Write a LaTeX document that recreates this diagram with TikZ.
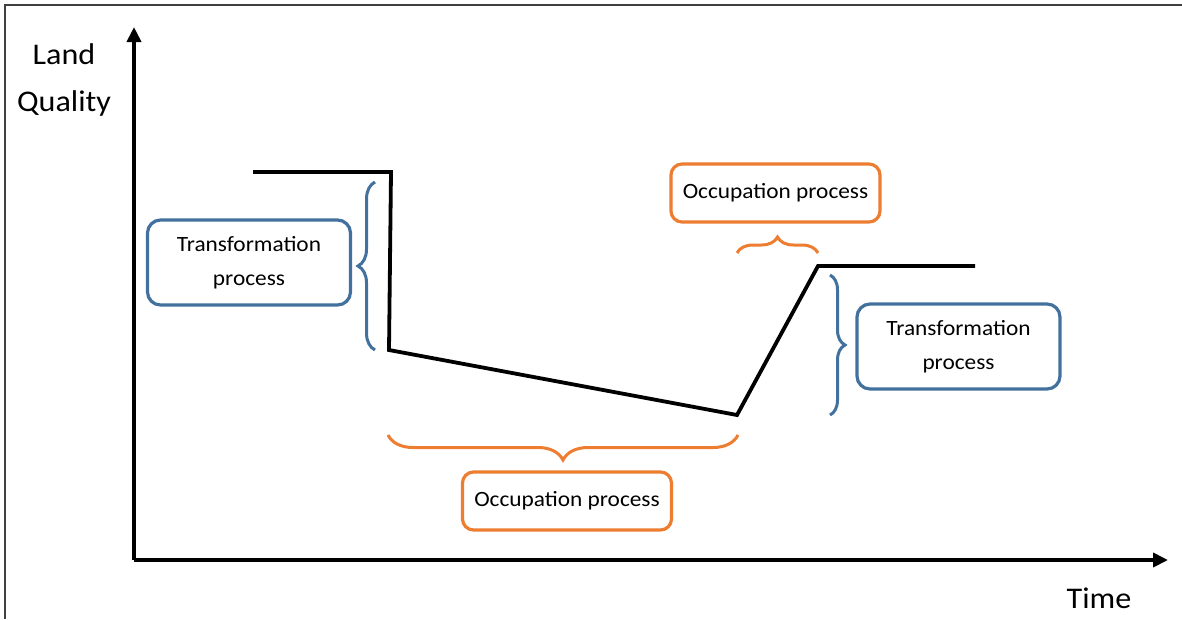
\documentclass[tikz,border=0pt]{standalone}
\usepackage{fontspec}
\setmainfont{Carlito}[FakeStretch=1.07]
\usetikzlibrary{arrows.meta,decorations.pathreplacing}
\definecolor{ablue}{RGB}{65,113,156}
\definecolor{aorange}{RGB}{237,125,49}
\begin{document}
\begin{tikzpicture}[x=1pt,y=1pt,
  axis/.style={line width=4pt,-{Triangle[length=15pt,width=14pt]}},
  curve/.style={line width=3.8pt,line join=miter},
  bbox/.style={draw=ablue,line width=3.2pt,rounded corners=13pt,minimum width=203pt,minimum height=85pt,align=center,inner sep=0pt,font=\fontsize{21.8}{34}\selectfont},
  obox/.style={draw=aorange,line width=3.2pt,rounded corners=11pt,minimum width=209pt,minimum height=58pt,align=center,inner sep=0pt,font=\fontsize{21.8}{34}\selectfont},
  bbrace/.style={draw=ablue,line width=3pt,decorate,decoration={brace,amplitude=#1}},
  obrace/.style={draw=aorange,line width=3pt,decorate,decoration={brace,amplitude=#1}},
  lbl/.style={inner sep=0pt,font=\fontsize{30}{47}\selectfont,align=center}]
\useasboundingbox (0,0) rectangle (1182,-619);
% frame
\draw[line width=1.4pt,black!75] (1182,-5) -- (5,-5) -- (5,-619);
% axes
\coordinate (O) at (134,-560);
\coordinate (ytip) at (134,-27);
\coordinate (xtip) at (1168,-560);
\draw[axis] (O) -- (ytip);
\draw[axis] (O) -- (xtip);
\node[lbl] (ylab) at (64,-80) {Land\\Quality};
\node[lbl] (xlab) at (1099,-598) {Time};
% curve
\coordinate (c1) at (253,-172);
\coordinate (c2) at (391,-172);
\coordinate (c3) at (389,-350);
\coordinate (c4) at (737,-415);
\coordinate (c5) at (818,-266);
\coordinate (c6) at (975,-266);
\draw[curve] (c1) -- (c2) -- (c3) -- (c4) -- (c5) -- (c6);
% boxes
\node[bbox] (t1) at (249,-262.5) {Transformation\\process};
\node[bbox] (t2) at (958.5,-346.5) {Transformation\\process};
\node[obox] (o1) at (775.5,-193) {Occupation process};
\node[obox] (o2) at (567,-501) {Occupation process};
% braces
\coordinate (b1s) at (375,-350);
\coordinate (b1e) at (375,-182);
\draw[bbrace=17pt] (b1s) -- (b1e);
\coordinate (b2s) at (830,-275);
\coordinate (b2e) at (830,-415);
\draw[bbrace=15pt] (b2s) -- (b2e);
\coordinate (b3s) at (737,-253);
\coordinate (b3e) at (818,-253);
\draw[obrace=16pt] (b3s) -- (b3e);
\coordinate (b4s) at (738,-435);
\coordinate (b4e) at (388,-435);
\draw[obrace=25pt] (b4s) -- (b4e);
\end{tikzpicture}
\end{document}
